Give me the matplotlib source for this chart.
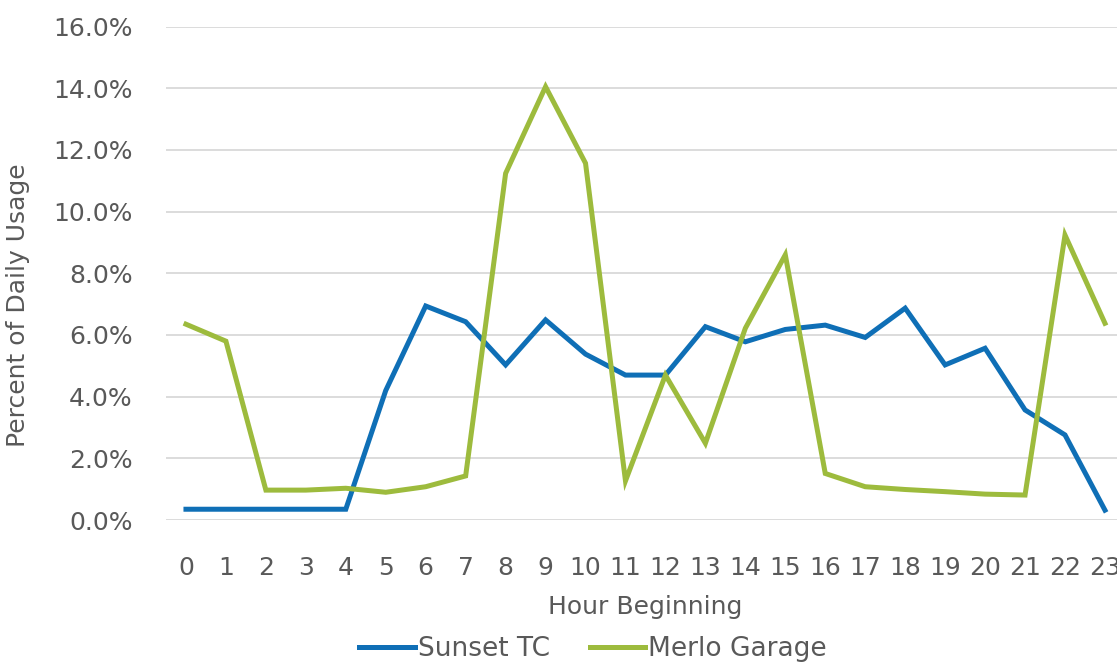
import numpy as np
import matplotlib.pyplot as plt
from matplotlib.ticker import FuncFormatter

plt.rcParams['font.family'] = ['DejaVu Sans']

# Data (percent of daily usage by hour)
hours = list(range(24))
sunset_tc = [0.35, 0.35, 0.35, 0.35, 0.35, 4.2, 6.94, 6.43, 5.03, 6.49, 5.38, 4.70,
             4.70, 6.27, 5.78, 6.18, 6.32, 5.92, 6.87, 5.03, 5.57, 3.57, 2.76, 0.32]
merlo_garage = [6.35, 5.80, 0.97, 0.97, 1.03, 0.90, 1.08, 1.43, 11.24, 14.05, 11.57, 1.27,
                4.70, 2.49, 6.22, 8.60, 1.51, 1.08, 0.99, 0.92, 0.84, 0.81, 9.24, 6.38]

grey = '#595959'
fs = 18

fig = plt.figure(figsize=(11.17, 6.65), dpi=100)
ax = fig.add_axes([0.1486, 0.218, 0.8585, 0.742])

ax.plot(hours, sunset_tc, color='#0F6FB6', lw=3.6, label='Sunset TC', solid_joinstyle='miter')
ax.plot(hours, merlo_garage, color='#9DBB3D', lw=3.6, label='Merlo Garage', solid_joinstyle='miter')

ax.set_xlim(-0.5, 23.5)
ax.set_ylim(0, 16)
ax.set_yticks(np.arange(0, 17, 2))
ax.yaxis.set_major_formatter(FuncFormatter(lambda v, p: f'{v:.1f}%'))
ax.set_xticks(hours)
ax.grid(axis='y', color='#D9D9D9', lw=1.3)
ax.set_axisbelow(True)
for s in ax.spines.values():
    s.set_visible(False)
ax.tick_params(length=0, labelsize=fs, colors=grey)
ax.tick_params(axis='y', pad=24)
ax.tick_params(axis='x', pad=26)

ax.set_xlabel('Hour Beginning', fontsize=fs, color=grey, labelpad=11)
ax.set_ylabel('Percent of Daily Usage', fontsize=fs, color=grey)
ax.yaxis.set_label_coords(-0.142, 0.436)

fig.legend(loc='center', bbox_to_anchor=(0.531, 0.024), ncol=2, frameon=False,
           fontsize=19, labelcolor=grey, handlelength=2.1, handletextpad=0.12,
           columnspacing=1.5)

fig.savefig('out.png', dpi=100)
